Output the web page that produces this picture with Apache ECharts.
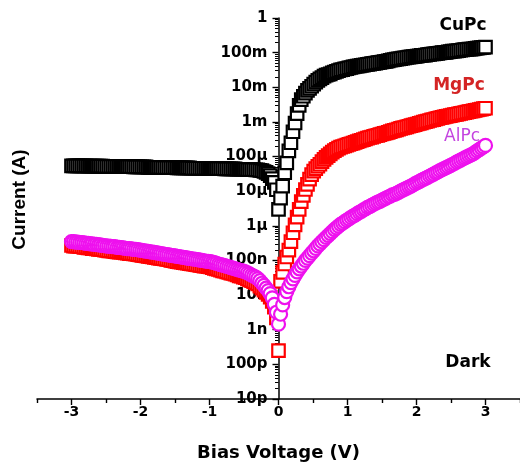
<!DOCTYPE html>
<html><head><meta charset="utf-8">
<script src="https://cdn.jsdelivr.net/npm/echarts@6/dist/echarts.min.js"></script>
<style>html,body{margin:0;padding:0;background:#fff}#c{width:520px;height:470px}</style>
</head><body><div id="c"></div>
<script>
// Bias voltage sweep (V)
const voltage = [
-3,-2.97,-2.94,-2.91,-2.88,-2.85,-2.82,-2.79,-2.76,-2.73,
-2.7,-2.67,-2.64,-2.61,-2.58,-2.55,-2.52,-2.49,-2.46,-2.43,
-2.4,-2.37,-2.34,-2.31,-2.28,-2.25,-2.22,-2.19,-2.16,-2.13,
-2.1,-2.07,-2.04,-2.01,-1.98,-1.95,-1.92,-1.89,-1.86,-1.83,
-1.8,-1.77,-1.74,-1.71,-1.68,-1.65,-1.62,-1.59,-1.56,-1.53,
-1.5,-1.47,-1.44,-1.41,-1.38,-1.35,-1.32,-1.29,-1.26,-1.23,
-1.2,-1.17,-1.14,-1.11,-1.08,-1.05,-1.02,-0.99,-0.96,-0.93,
-0.9,-0.87,-0.84,-0.81,-0.78,-0.75,-0.72,-0.69,-0.66,-0.63,
-0.6,-0.57,-0.54,-0.51,-0.48,-0.45,-0.42,-0.39,-0.36,-0.33,
-0.3,-0.27,-0.24,-0.21,-0.18,-0.15,-0.12,-0.09,-0.06,-0.03,
0,
0.03,0.06,0.09,0.12,0.15,0.18,0.21,0.24,0.27,0.3,
0.33,0.36,0.39,0.42,0.45,0.48,0.51,0.54,0.57,0.6,
0.63,0.66,0.69,0.72,0.75,0.78,0.81,0.84,0.87,0.9,
0.93,0.96,0.99,1.02,1.05,1.08,1.11,1.14,1.17,1.2,
1.23,1.26,1.29,1.32,1.35,1.38,1.41,1.44,1.47,1.5,
1.53,1.56,1.59,1.62,1.65,1.68,1.71,1.74,1.77,1.8,
1.83,1.86,1.89,1.92,1.95,1.98,2.01,2.04,2.07,2.1,
2.13,2.16,2.19,2.22,2.25,2.28,2.31,2.34,2.37,2.4,
2.43,2.46,2.49,2.52,2.55,2.58,2.61,2.64,2.67,2.7,
2.73,2.76,2.79,2.82,2.85,2.88,2.91,2.94,2.97,3
];
// Current (A)
const cuPc = [
5.4e-5,5.4e-5,5.4e-5,5.4e-5,5.4e-5,5.4e-5,5.4e-5,5.4e-5,5.3e-5,5.3e-5,
5.3e-5,5.3e-5,5.3e-5,5.3e-5,5.3e-5,5.3e-5,5.2e-5,5.2e-5,5.2e-5,5.2e-5,
5.2e-5,5.2e-5,5.2e-5,5.2e-5,5.1e-5,5.1e-5,5.1e-5,5.1e-5,5.1e-5,5.1e-5,
5.0e-5,5.0e-5,5.0e-5,5.0e-5,5.0e-5,5.0e-5,5.0e-5,4.9e-5,4.9e-5,4.9e-5,
4.9e-5,4.9e-5,4.9e-5,4.9e-5,4.8e-5,4.8e-5,4.8e-5,4.8e-5,4.8e-5,4.8e-5,
4.8e-5,4.7e-5,4.7e-5,4.7e-5,4.7e-5,4.7e-5,4.7e-5,4.7e-5,4.6e-5,4.6e-5,
4.6e-5,4.6e-5,4.6e-5,4.6e-5,4.6e-5,4.6e-5,4.6e-5,4.5e-5,4.5e-5,4.5e-5,
4.5e-5,4.5e-5,4.5e-5,4.5e-5,4.4e-5,4.4e-5,4.4e-5,4.4e-5,4.4e-5,4.4e-5,
4.3e-5,4.3e-5,4.3e-5,4.3e-5,4.3e-5,4.2e-5,4.2e-5,4.2e-5,4.2e-5,4.1e-5,
4.1e-5,4.0e-5,3.9e-5,3.7e-5,3.5e-5,3.2e-5,2.8e-5,2.3e-5,1.8e-5,1.1e-5,
3.0e-6,
6.3e-6,1.4e-5,3.4e-5,6.6e-5,1.45e-4,2.5e-4,5.2e-4,9.3e-4,1.74e-3,3.0e-3,
4.4e-3,5.5e-3,6.8e-3,8.1e-3,9.3e-3,1.07e-2,1.23e-2,1.41e-2,1.58e-2,1.74e-2,
1.91e-2,2.09e-2,2.24e-2,2.34e-2,2.45e-2,2.63e-2,2.75e-2,2.88e-2,3.02e-2,3.16e-2,
3.24e-2,3.39e-2,3.47e-2,3.63e-2,3.72e-2,3.89e-2,3.98e-2,4.07e-2,4.17e-2,4.27e-2,
4.37e-2,4.47e-2,4.57e-2,4.68e-2,4.79e-2,4.90e-2,5.01e-2,5.13e-2,5.25e-2,5.37e-2,
5.50e-2,5.62e-2,5.75e-2,6.03e-2,6.17e-2,6.31e-2,6.46e-2,6.61e-2,6.76e-2,6.92e-2,
7.08e-2,7.24e-2,7.41e-2,7.59e-2,7.67e-2,7.76e-2,7.94e-2,8.13e-2,8.32e-2,8.41e-2,
8.51e-2,8.71e-2,8.91e-2,9.12e-2,9.23e-2,9.33e-2,9.55e-2,9.77e-2,0.100,0.101,
0.102,0.105,0.107,0.110,0.111,0.112,0.115,0.117,0.120,0.122,
0.123,0.126,0.127,0.129,0.132,0.135,0.138,0.140,0.141,0.145
];
const mgPc = [
2.7e-7,2.6e-7,2.6e-7,2.6e-7,2.5e-7,2.5e-7,2.4e-7,2.4e-7,2.3e-7,2.3e-7,
2.2e-7,2.2e-7,2.15e-7,2.1e-7,2.1e-7,2.05e-7,2.0e-7,1.95e-7,1.9e-7,1.9e-7,
1.85e-7,1.8e-7,1.78e-7,1.74e-7,1.74e-7,1.7e-7,1.66e-7,1.62e-7,1.58e-7,1.58e-7,
1.55e-7,1.51e-7,1.48e-7,1.45e-7,1.41e-7,1.38e-7,1.35e-7,1.32e-7,1.29e-7,1.26e-7,
1.23e-7,1.2e-7,1.17e-7,1.15e-7,1.12e-7,1.1e-7,1.07e-7,1.05e-7,1.0e-7,9.8e-8,
9.5e-8,9.3e-8,9.1e-8,8.9e-8,8.7e-8,8.5e-8,8.3e-8,8.1e-8,7.9e-8,7.8e-8,
7.6e-8,7.4e-8,7.2e-8,7.1e-8,6.9e-8,6.8e-8,6.6e-8,6.5e-8,6.2e-8,5.9e-8,
5.75e-8,5.5e-8,5.25e-8,5.0e-8,4.9e-8,4.7e-8,4.5e-8,4.3e-8,4.2e-8,4.0e-8,
3.8e-8,3.6e-8,3.5e-8,3.3e-8,3.2e-8,2.95e-8,2.75e-8,2.6e-8,2.45e-8,2.3e-8,
2.1e-8,1.82e-8,1.58e-8,1.38e-8,1.2e-8,1.05e-8,8.7e-9,6.6e-9,4.5e-9,2.2e-9,
2.5e-10,
2.5e-8,4.5e-8,7.9e-8,1.26e-7,2.0e-7,3.5e-7,6.3e-7,1.07e-6,1.78e-6,3.0e-6,
5.0e-6,7.6e-6,1.12e-5,1.58e-5,2.24e-5,3.0e-5,3.8e-5,4.5e-5,5.25e-5,6.0e-5,
7.1e-5,8.3e-5,9.5e-5,1.07e-4,1.2e-4,1.35e-4,1.48e-4,1.62e-4,1.74e-4,1.86e-4,
1.95e-4,2.04e-4,2.14e-4,2.24e-4,2.34e-4,2.45e-4,2.57e-4,2.69e-4,2.82e-4,2.95e-4,
3.09e-4,3.24e-4,3.39e-4,3.55e-4,3.63e-4,3.8e-4,3.98e-4,4.1e-4,4.27e-4,4.47e-4,
4.68e-4,4.79e-4,5.0e-4,5.25e-4,5.5e-4,5.7e-4,5.9e-4,6.2e-4,6.5e-4,6.7e-4,
6.9e-4,7.2e-4,7.5e-4,7.8e-4,8.1e-4,8.4e-4,8.7e-4,9.1e-4,9.4e-4,9.8e-4,
1.02e-3,1.06e-3,1.1e-3,1.14e-3,1.17e-3,1.23e-3,1.27e-3,1.32e-3,1.35e-3,1.4e-3,
1.45e-3,1.48e-3,1.52e-3,1.57e-3,1.62e-3,1.66e-3,1.71e-3,1.76e-3,1.81e-3,1.86e-3,
1.92e-3,1.97e-3,2.03e-3,2.09e-3,2.15e-3,2.21e-3,2.28e-3,2.34e-3,2.41e-3,2.48e-3
];
const alPc = [
3.5e-7,3.5e-7,3.4e-7,3.4e-7,3.3e-7,3.3e-7,3.2e-7,3.1e-7,3.1e-7,3.0e-7,
3.0e-7,2.9e-7,2.9e-7,2.8e-7,2.8e-7,2.7e-7,2.7e-7,2.6e-7,2.6e-7,2.55e-7,
2.5e-7,2.5e-7,2.4e-7,2.4e-7,2.35e-7,2.3e-7,2.25e-7,2.2e-7,2.2e-7,2.15e-7,
2.1e-7,2.1e-7,2.05e-7,2.0e-7,1.95e-7,1.9e-7,1.86e-7,1.82e-7,1.78e-7,1.74e-7,
1.7e-7,1.66e-7,1.62e-7,1.58e-7,1.55e-7,1.51e-7,1.48e-7,1.45e-7,1.41e-7,1.38e-7,
1.35e-7,1.32e-7,1.29e-7,1.26e-7,1.23e-7,1.2e-7,1.17e-7,1.15e-7,1.12e-7,1.1e-7,
1.07e-7,1.05e-7,1.02e-7,1.0e-7,9.8e-8,9.5e-8,9.4e-8,9.3e-8,8.9e-8,8.6e-8,
8.3e-8,7.9e-8,7.6e-8,7.3e-8,7.1e-8,6.8e-8,6.5e-8,6.2e-8,6.0e-8,5.75e-8,
5.5e-8,5.3e-8,5.1e-8,4.9e-8,4.7e-8,4.4e-8,4.1e-8,3.8e-8,3.55e-8,3.3e-8,
3.0e-8,2.6e-8,2.2e-8,1.9e-8,1.58e-8,1.35e-8,1.1e-8,8.3e-9,5.4e-9,3.2e-9,
1.45e-9,
2.8e-9,5.2e-9,8.5e-9,1.26e-8,1.74e-8,2.3e-8,2.95e-8,3.7e-8,4.7e-8,5.75e-8,
6.9e-8,8.3e-8,1.0e-7,1.17e-7,1.38e-7,1.62e-7,1.9e-7,2.24e-7,2.63e-7,3.0e-7,
3.47e-7,4.0e-7,4.6e-7,5.25e-7,6.0e-7,6.8e-7,7.8e-7,8.7e-7,9.8e-7,1.1e-6,
1.2e-6,1.32e-6,1.45e-6,1.58e-6,1.74e-6,1.9e-6,2.04e-6,2.24e-6,2.45e-6,2.63e-6,
2.9e-6,3.1e-6,3.4e-6,3.6e-6,3.9e-6,4.2e-6,4.5e-6,4.8e-6,5.1e-6,5.5e-6,
5.9e-6,6.3e-6,6.8e-6,7.2e-6,7.8e-6,8.1e-6,8.7e-6,9.3e-6,1.0e-5,1.07e-5,
1.15e-5,1.23e-5,1.32e-5,1.41e-5,1.51e-5,1.66e-5,1.78e-5,1.9e-5,2.04e-5,2.2e-5,
2.34e-5,2.5e-5,2.7e-5,2.9e-5,3.1e-5,3.4e-5,3.6e-5,3.9e-5,4.2e-5,4.5e-5,
4.8e-5,5.1e-5,5.5e-5,5.9e-5,6.3e-5,6.9e-5,7.4e-5,7.9e-5,8.5e-5,9.1e-5,
9.8e-5,1.05e-4,1.12e-4,1.2e-4,1.32e-4,1.45e-4,1.58e-4,1.74e-4,1.9e-4,2.1e-4
];
const xTickValues = [-3,-2,-1,0,1,2,3];
const xMinorValues = [-3.5,-2.5,-1.5,-0.5,0.5,1.5,2.5,3.5];
const yTickValues = [1e-11,1e-10,1e-9,1e-8,1e-7,1e-6,1e-5,1e-4,1e-3,1e-2,1e-1,1];
const yTickLabels = ['10p','100p','1n','10n','100n','1µ','10µ','100µ','1m','10m','100m','1'];

const yMinorValues = [];
for (let e = -11; e < 0; e++) for (let m = 2; m <= 9; m++) yMinorValues.push(m * Math.pow(10, e));

const FONT = 'DejaVu Sans';
const GRID_LEFT = 37, GRID_W = 483;
const X_MIN = -3.5, X_MAX = 3.5;
// shift that puts the vertical axis at V = 0
const Y_AXIS_SHIFT = -GRID_W * (0 - X_MIN) / (X_MAX - X_MIN);

const chart = echarts.init(document.getElementById('c'), null, {renderer: 'canvas'});
const mk = (arr) => voltage.map((v, i) => [v, arr[i]]);
const tickStyle = {color: '#000', width: 1.4};

chart.setOption({
  backgroundColor: '#fff',
  animation: false,
  grid: {left: GRID_LEFT, right: 0, top: 18, bottom: 71, containLabel: false, outerBoundsMode: 'none'},
  xAxis: [{
    type: 'value', min: X_MIN, max: X_MAX, position: 'bottom',
    axisLine: {onZero: false, lineStyle: {color: '#000', width: 1.5}},
    axisTick: {customValues: xTickValues, length: 6, lineStyle: tickStyle},
    axisLabel: {customValues: xTickValues, margin: 6, color: '#000', fontFamily: FONT, fontWeight: 'bold', fontSize: 14},
    splitLine: {show: false},
    name: 'Bias Voltage (V)', nameLocation: 'middle', nameGap: 45,
    nameTextStyle: {fontFamily: FONT, fontWeight: 'bold', fontSize: 18, color: '#000'}
  }, {
    type: 'value', min: X_MIN, max: X_MAX, position: 'bottom',
    axisLine: {show: false, onZero: false},
    axisTick: {customValues: xMinorValues, length: 4, lineStyle: tickStyle},
    axisLabel: {show: false}, splitLine: {show: false}
  }],
  yAxis: [{
    type: 'log', logBase: 10, min: 1e-11, max: 1, position: 'left', offset: Y_AXIS_SHIFT,
    axisLine: {show: true, onZero: false, lineStyle: {color: '#000', width: 1.5}},
    axisTick: {show: true, customValues: yTickValues, length: 6, lineStyle: tickStyle},
    axisLabel: {
      customValues: yTickValues, margin: 11, padding: [0, 0, 7, 0],
      color: '#000', fontFamily: FONT, fontWeight: 'bold', fontSize: 15,
      formatter: (v) => yTickLabels[Math.round(Math.log10(v)) + 11]
    },
    splitLine: {show: false}, minorTick: {show: false}
  }, {
    type: 'log', logBase: 10, min: 1e-11, max: 1, position: 'left', offset: Y_AXIS_SHIFT,
    axisLine: {show: false, onZero: false},
    axisTick: {show: true, customValues: yMinorValues, length: 3.5, lineStyle: {color: '#000', width: 1}},
    axisLabel: {show: false}, splitLine: {show: false}
  }, {
    // carries the axis title at the left edge of the plot
    type: 'log', logBase: 10, min: 1e-11, max: 1, position: 'left',
    axisLine: {show: false, onZero: false}, axisTick: {show: false}, axisLabel: {show: false}, splitLine: {show: false},
    name: 'Current (A)', nameLocation: 'middle', nameGap: 8,
    nameTextStyle: {fontFamily: 'Liberation Sans', fontWeight: 'bold', fontSize: 19, color: '#000', padding: [0, 0, 0, 18]}
  }],
  series: [
    {name: 'CuPc', type: 'scatter', data: mk(cuPc), symbol: 'rect', symbolSize: 12.5,
     itemStyle: {color: '#fff', borderColor: '#000', borderWidth: 2.2, opacity: 1}, emphasis: {disabled: true}, z: 2},
    {name: 'MgPc', type: 'scatter', data: mk(mgPc), symbol: 'rect', symbolSize: 12.5,
     itemStyle: {color: '#fff', borderColor: '#ff0000', borderWidth: 2.2, opacity: 1}, emphasis: {disabled: true}, z: 3},
    {name: 'AlPc', type: 'scatter', data: mk(alPc), symbol: 'circle', symbolSize: 13,
     itemStyle: {color: '#fff', borderColor: '#ee11ee', borderWidth: 2.2, opacity: 1}, emphasis: {disabled: true}, z: 4}
  ],
  graphic: [
    {type: 'text', x: 463, y: 26, z: 1, style: {text: 'CuPc', font: 'bold 17px "DejaVu Sans"', fill: '#000', textAlign: 'center', textVerticalAlign: 'middle', align: 'center', verticalAlign: 'middle'}},
    {type: 'text', x: 459, y: 86, z: 1, style: {text: 'MgPc', font: 'bold 17px "DejaVu Sans"', fill: '#d42424', textAlign: 'center', textVerticalAlign: 'middle', align: 'center', verticalAlign: 'middle'}},
    {type: 'text', x: 462, y: 137, z: 1, style: {text: 'AlPc', font: '17px "DejaVu Sans"', fill: '#c444e0', textAlign: 'center', textVerticalAlign: 'middle', align: 'center', verticalAlign: 'middle'}},
    {type: 'text', x: 468, y: 363, z: 1, style: {text: 'Dark', font: 'bold 17px "DejaVu Sans"', fill: '#000', textAlign: 'center', textVerticalAlign: 'middle', align: 'center', verticalAlign: 'middle'}}
  ]
});
</script></body></html>
